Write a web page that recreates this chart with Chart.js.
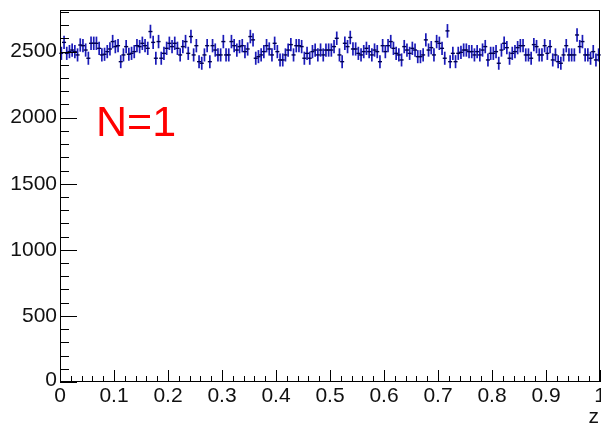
<!DOCTYPE html>
<html>
<head>
<meta charset="utf-8">
<script src="https://cdn.jsdelivr.net/npm/chart.js@4.4.1/dist/chart.umd.min.js"></script>
<style>
html,body{margin:0;padding:0;background:#fff;}
#wrap{width:601px;height:427px;position:relative;}
</style>
</head>
<body>
<div id="wrap"><canvas id="c" width="601" height="427"></canvas></div>
<script>
// Histogram of z, 200 bins in [0,1]
const binCount = 200;
const zMin = 0, zMax = 1;
const counts = [
2487,2570,2487,2500,2512,2500,2475,2550,2545,2512,2450,2563,2563,2563,2525,2475,2480,2500,2520,2576,2538,2545,2424,2475,2538,2480,2487,2500,2545,2538,2563,2545,2525,2652,2570,2450,2576,2450,2487,2525,2563,
2538,2563,2525,2475,2538,2576,2487,2614,2475,2545,2424,2412,2475,2545,2424,2545,2512,2475,2475,2576,2475,2475,2576,2545,2512,2538,2545,2500,2520,2614,2589,2450,2462,2475,2500,2545,2520,2475,2563,2500,
2437,2437,2475,2512,2553,2475,2545,2545,2538,2450,2487,2450,2500,2512,2475,2512,2475,2512,2512,2512,2538,2601,2475,2424,2563,2538,2607,2520,2520,2487,2475,2500,2525,2500,2475,2512,2500,2424,2545,2500,
2545,2576,2525,2487,2475,2437,2538,2512,2487,2525,2512,2462,2462,2475,2589,2512,2530,2475,2576,2563,2525,2450,2657,2424,2487,2424,2487,2495,2512,2512,2500,2500,2475,2500,2475,2512,2538,2437,
2487,2487,2500,2412,2512,2563,2530,2450,2487,2500,2530,2545,2545,2475,2475,2450,2553,2538,2475,2475,2545,2487,2538,2437,2475,2424,2412,2475,2545,2475,2475,2475,2626,2538,2576,2475,2475,2450,2500,2437,2475
];
const yMax = 2815;
const yTickLabels = [0,500,1000,1500,2000,2500];
const xTickLabels = ['0','0.1','0.2','0.3','0.4','0.5','0.6','0.7','0.8','0.9','1'];
const xTitle = 'z';
const annotation = 'N=1';

const binW = (zMax - zMin) / binCount;
const points = counts.slice(0, binCount).map((v, i) => ({x: zMin + (i + 0.5) * binW, y: v}));

const rootStyle = {
  id: 'rootStyle',
  afterDatasetsDraw(chart) {
    const ctx = chart.ctx, xs = chart.scales.x, ys = chart.scales.y;
    ctx.save();
    ctx.strokeStyle = '#1a1ab8';
    ctx.lineWidth = 1.7;
    points.forEach(p => {
      const e = Math.sqrt(p.y);
      const px = xs.getPixelForValue(p.x);
      ctx.beginPath();
      ctx.moveTo(px, ys.getPixelForValue(p.y - e));
      ctx.lineTo(px, ys.getPixelForValue(p.y + e));
      ctx.stroke();
    });
    ctx.strokeStyle = '#000050';
    ctx.lineWidth = 1.4;
    points.forEach(p => {
      const py = ys.getPixelForValue(p.y);
      ctx.beginPath();
      ctx.moveTo(xs.getPixelForValue(p.x - binW * 0.75), py);
      ctx.lineTo(xs.getPixelForValue(p.x + binW * 0.75), py);
      ctx.stroke();
    });
    ctx.restore();
  },
  afterDraw(chart) {
    const ctx = chart.ctx, a = chart.chartArea, xs = chart.scales.x, ys = chart.scales.y;
    ctx.save();
    ctx.strokeStyle = '#000';
    ctx.lineWidth = 1;
    ctx.strokeRect(a.left + 0.5, a.top + 0.5, a.right - a.left - 1, a.bottom - a.top - 1);
    ctx.beginPath();
    for (let v = 0; v <= yMax; v += 100) {
      const py = Math.round(ys.getPixelForValue(v)) + 0.5;
      const len = (v % 500 === 0) ? 17 : 9;
      ctx.moveTo(a.left, py);
      ctx.lineTo(a.left + len, py);
    }
    for (let k = 0; k <= 50; k++) {
      const v = k * 0.02;
      const px = Math.round(xs.getPixelForValue(v)) + 0.5;
      const len = (k % 5 === 0) ? 12 : 6;
      ctx.moveTo(px, a.bottom);
      ctx.lineTo(px, a.bottom - len);
    }
    ctx.stroke();
    ctx.fillStyle = '#111';
    ctx.font = '21px "Liberation Sans", Arial, sans-serif';
    ctx.textAlign = 'right';
    ctx.textBaseline = 'middle';
    yTickLabels.forEach(v => {
      const py = ys.getPixelForValue(v);
      ctx.fillText(String(v), a.left - 3, v === 0 ? py - 2 : py);
    });
    ctx.textAlign = 'center';
    ctx.textBaseline = 'top';
    xTickLabels.forEach((t, i) => {
      const px = xs.getPixelForValue(i / 10);
      ctx.fillText(t, px, a.bottom + 4);
    });
    ctx.textAlign = 'right';
    ctx.fillText(xTitle, a.right - 1, a.bottom + 25);
    ctx.fillStyle = '#ff0000';
    ctx.font = '43px "Liberation Sans", Arial, sans-serif';
    ctx.textAlign = 'left';
    ctx.textBaseline = 'alphabetic';
    ctx.fillText(annotation, 96, 136);
    ctx.restore();
  }
};

new Chart(document.getElementById('c'), {
  type: 'scatter',
  data: {
    datasets: [{
      data: points,
      pointRadius: 0,
      pointHoverRadius: 0,
      showLine: false
    }]
  },
  options: {
    responsive: false,
    animation: false,
    events: [],
    layout: {padding: {left: 60, top: 10, right: 1, bottom: 45}},
    plugins: {legend: {display: false}, tooltip: {enabled: false}},
    scales: {
      x: {type: 'linear', min: zMin, max: zMax, display: false},
      y: {type: 'linear', min: 0, max: yMax, display: false}
    }
  },
  plugins: [rootStyle]
});
</script>
</body>
</html>
